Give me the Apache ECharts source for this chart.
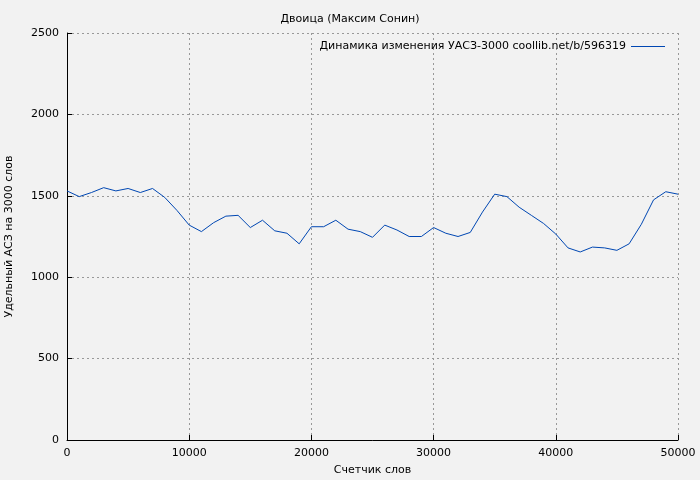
<!DOCTYPE html>
<html lang="ru">
<head>
<meta charset="UTF-8">
<title>Двоица</title>
<script src="https://cdn.jsdelivr.net/npm/echarts@6/dist/echarts.min.js"></script>
<style>
    body { margin: 0; background: #f2f2f2; }
    #chart { width: 700px; height: 480px; }
</style>
</head>
<body>
<div id="chart"></div>
<script>
    const words = [0, 1000, 2000, 3000, 4000, 5000, 6000, 7000, 8000, 9000,
        10000, 11000, 12000, 13000, 14000, 15000, 16000, 17000, 18000, 19000,
        20000, 21000, 22000, 23000, 24000, 25000, 26000, 27000, 28000, 29000,
        30000, 31000, 32000, 33000, 34000, 35000, 36000, 37000, 38000, 39000,
        40000, 41000, 42000, 43000, 44000, 45000, 46000, 47000, 48000, 49000, 50000];
    const uas = [1530, 1495, 1520, 1550, 1530, 1545, 1520, 1545, 1490, 1410,
        1320, 1280, 1335, 1375, 1380, 1305, 1350, 1285, 1270, 1205,
        1310, 1310, 1350, 1295, 1280, 1245, 1320, 1290, 1250, 1250,
        1305, 1270, 1250, 1275, 1400, 1510, 1495, 1430, 1380, 1330,
        1265, 1180, 1155, 1185, 1180, 1165, 1205, 1325, 1475, 1525, 1510];
    const seriesName = 'Динамика изменения УАСЗ-3000 coollib.net/b/596319';

    let myChart = echarts.init(document.getElementById('chart'));
    let axisText = {color: '#000', fontSize: 11, fontFamily: 'DejaVu Sans'};
    let plain = v => String(v);
    let option = {
        backgroundColor: '#f2f2f2',
        animation: false,
        title: {
            text: 'Двоица (Максим Сонин)',
            left: 'center',
            top: 9,
            textStyle: {color: '#000', fontSize: 11, fontWeight: 'normal', fontFamily: 'DejaVu Sans'}
        },
        legend: {
            right: 30,
            top: 36,
            itemWidth: 34,
            itemHeight: 1,
            icon: 'rect',
            align: 'right',
            data: [seriesName],
            textStyle: axisText
        },
        grid: {left: 67, right: 22, top: 33, bottom: 40, containLabel: false, outerBoundsMode: 'none'},
        xAxis: {
            type: 'value',
            min: 0, max: 50000, interval: 10000,
            name: 'Счетчик слов',
            nameLocation: 'middle',
            nameGap: 25,
            nameTextStyle: axisText,
            axisLabel: Object.assign({formatter: plain}, axisText),
            axisLine: {lineStyle: {color: '#000'}},
            axisTick: {inside: true, lineStyle: {color: '#000'}},
            splitLine: {show: true, lineStyle: {color: '#999', type: [2, 3]}}
        },
        yAxis: {
            type: 'value',
            min: 0, max: 2500, interval: 500,
            name: 'Удельный АСЗ на 3000 слов',
            nameLocation: 'middle',
            nameGap: 52,
            nameTextStyle: axisText,
            axisLabel: Object.assign({formatter: plain}, axisText),
            axisLine: {show: true, lineStyle: {color: '#000'}},
            axisTick: {show: true, inside: true, lineStyle: {color: '#000'}},
            splitLine: {show: true, lineStyle: {color: '#999', type: [2, 3]}}
        },
        series: [{
            name: seriesName,
            type: 'line',
            symbol: 'none',
            data: words.map((w, i) => [w, uas[i]]),
            lineStyle: {color: '#0047b3', width: 1},
            itemStyle: {color: '#0047b3'}
        }]
    };
    myChart.setOption(option);
</script>
</body>
</html>
